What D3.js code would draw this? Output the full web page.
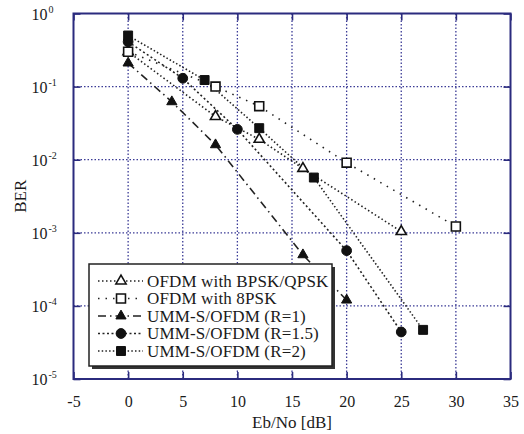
<!DOCTYPE html>
<html lang="en">
<head>
<meta charset="UTF-8">
<title>BER vs Eb/No</title>
<script src="https://d3js.org/d3.v7.min.js"></script>
<style>
  body { margin: 0; background: #fff; }
  svg text { font-family: "Liberation Serif", "Times New Roman", serif; fill: #1a1a1a; }
</style>
</head>
<body>
<div id="chart"></div>
<script>
// ---- data ----
const xTicks = [-5, 0, 5, 10, 15, 20, 25, 30, 35];
const yExps = [0, -1, -2, -3, -4, -5];

const seriesNames = [
  "OFDM with BPSK/QPSK",
  "OFDM with 8PSK",
  "UMM-S/OFDM (R=1)",
  "UMM-S/OFDM (R=1.5)",
  "UMM-S/OFDM (R=2)"
];
const bpskX = [0, 8, 12, 16, 25];
const bpskY = [0.30, 0.039, 0.019, 0.0076, 0.00104];
const psk8X = [0, 8, 12, 20, 30];
const psk8Y = [0.30, 0.10, 0.054, 0.0091, 0.00122];
const r1X = [0, 4, 8, 16, 20];
const r1Y = [0.21, 0.062, 0.016, 0.0005, 0.00012];
const r15X = [0, 5, 10, 20, 25];
const r15Y = [0.41, 0.13, 0.026, 0.00057, 0.000044];
const r2X = [0, 7, 12, 17, 27];
const r2Y = [0.50, 0.123, 0.027, 0.0057, 0.000047];

const W = 524, H = 434;
const margin = { left: 73.5, right: 13.5, top: 13.5, bottom: 55 };

const svg = d3.select("#chart").append("svg")
  .attr("width", W).attr("height", H);

const x = d3.scaleLinear().domain([-5, 35]).range([margin.left, W - margin.right]);
const y = d3.scaleLog().domain([1e-5, 1]).range([H - margin.bottom, margin.top]);

const gridColor = "#3b3b96";
const frameColor = "#2b2b7e";

// grid lines
svg.append("g")
  .selectAll("line")
  .data(xTicks.slice(1, -1))
  .join("line")
  .attr("x1", d => x(d)).attr("x2", d => x(d))
  .attr("y1", y(1)).attr("y2", y(1e-5))
  .attr("stroke", gridColor).attr("stroke-width", 1.3)
  .attr("stroke-dasharray", "1.5,2");

svg.append("g")
  .selectAll("line")
  .data(yExps.slice(1, -1))
  .join("line")
  .attr("x1", x(-5)).attr("x2", x(35))
  .attr("y1", d => y(Math.pow(10, d))).attr("y2", d => y(Math.pow(10, d)))
  .attr("stroke", gridColor).attr("stroke-width", 1.3)
  .attr("stroke-dasharray", "1.5,2");

// axes (ticks inside)
const xAxis = svg.append("g")
  .attr("transform", `translate(0,${y(1e-5)})`)
  .call(d3.axisBottom(x).tickValues(xTicks).tickSizeInner(-7).tickSizeOuter(0)
    .tickPadding(17).tickFormat(d => String(d)));
const xAxisTop = svg.append("g")
  .attr("transform", `translate(0,${y(1)})`)
  .call(d3.axisTop(x).tickValues(xTicks).tickSizeInner(-7).tickSizeOuter(0).tickFormat(""));
const yAxis = svg.append("g")
  .attr("transform", `translate(${x(-5)},0)`)
  .call(d3.axisLeft(y).tickValues(yExps.map(e => Math.pow(10, e))).tickSizeInner(-7).tickSizeOuter(0).tickFormat(""));
const yAxisR = svg.append("g")
  .attr("transform", `translate(${x(35)},0)`)
  .call(d3.axisRight(y).tickValues(yExps.map(e => Math.pow(10, e))).tickSizeInner(-7).tickSizeOuter(0).tickFormat(""));

[xAxis, xAxisTop, yAxis, yAxisR].forEach(g => {
  g.select(".domain").remove();
  g.selectAll(".tick line").attr("stroke", frameColor).attr("stroke-width", 1.6);
});
xAxis.selectAll(".tick text")
  .attr("font-size", 16).attr("fill", "#1a1a1a")
  .attr("font-family", "Liberation Serif, serif");

// y tick labels with superscripts
const yLab = svg.append("g").selectAll("text")
  .data(yExps)
  .join("text")
  .attr("x", x(-5) - 26)
  .attr("y", d => y(Math.pow(10, d)) + 6)
  .attr("text-anchor", "end")
  .attr("font-size", 16);
yLab.append("tspan").text("10");
yLab.append("tspan")
  .attr("x", x(-5) - 25)
  .attr("dy", -7)
  .attr("text-anchor", "start")
  .attr("font-size", 10)
  .text(d => String(d));

// frame
svg.append("rect")
  .attr("x", x(-5)).attr("y", y(1))
  .attr("width", x(35) - x(-5)).attr("height", y(1e-5) - y(1))
  .attr("fill", "none").attr("stroke", frameColor).attr("stroke-width", 2);

// axis titles
svg.append("text")
  .attr("x", (x(-5) + x(35)) / 2).attr("y", 428)
  .attr("text-anchor", "middle").attr("font-size", 17)
  .text("Eb/No [dB]");
svg.append("text")
  .attr("transform", `translate(26,${(y(1) + y(1e-5)) / 2}) rotate(-90)`)
  .attr("text-anchor", "middle").attr("font-size", 17)
  .text("BER");

// series
const series = [
  { name: seriesNames[0], xs: bpskX, ys: bpskY, dash: "1.5,2.5", marker: "triangle", fill: "#fff" },
  { name: seriesNames[1], xs: psk8X, ys: psk8Y, dash: "1.5,6", marker: "square", fill: "#fff" },
  { name: seriesNames[2], xs: r1X, ys: r1Y, dash: "8,4,1.5,4", marker: "triangle", fill: "#111" },
  { name: seriesNames[3], xs: r15X, ys: r15Y, dash: "2,2.5", marker: "circle", fill: "#111" },
  { name: seriesNames[4], xs: r2X, ys: r2Y, dash: "1.5,2.2", marker: "square", fill: "#111" }
];

const symbolType = { triangle: d3.symbolTriangle, square: d3.symbolSquare, circle: d3.symbolCircle };
const symbolSize = { triangle: 45, square: 80, circle: 75 };

const line = d3.line().x(d => x(d[0])).y(d => y(d[1]));

function drawMarker(g, s, px, py) {
  const filled = s.fill !== "#fff";
  g.append("path")
    .attr("transform", `translate(${px},${py})`)
    .attr("d", d3.symbol().type(symbolType[s.marker]).size(symbolSize[s.marker])())
    .attr("fill", s.fill)
    .attr("stroke", "#111")
    .attr("stroke-width", filled ? 1 : 1.6);
}

const plot = svg.append("g");
series.forEach(s => {
  const pts = s.xs.map((v, i) => [v, s.ys[i]]);
  plot.append("path")
    .datum(pts)
    .attr("d", line)
    .attr("fill", "none")
    .attr("stroke", "#222")
    .attr("stroke-width", 1.6)
    .attr("stroke-dasharray", s.dash);
});
series.forEach(s => {
  s.xs.forEach((v, i) => drawMarker(plot, s, x(v), y(s.ys[i])));
});

// legend
const lg = svg.append("g").attr("transform", "translate(89,264)");
lg.append("rect")
  .attr("x", 3).attr("y", 3).attr("width", 243).attr("height", 102)
  .attr("fill", "#333");
lg.append("rect")
  .attr("x", 0).attr("y", 0).attr("width", 243).attr("height", 102)
  .attr("fill", "#fff").attr("stroke", "#222").attr("stroke-width", 1.5);

series.forEach((s, i) => {
  const cy = 17 + i * 17.5;
  lg.append("line")
    .attr("x1", 9).attr("x2", 54).attr("y1", cy).attr("y2", cy)
    .attr("stroke", "#222").attr("stroke-width", 1.6)
    .attr("stroke-dasharray", s.dash);
  drawMarker(lg, s, 32, cy);
  lg.append("text")
    .attr("x", 58).attr("y", cy + 5.5)
    .attr("font-size", 17)
    .attr("letter-spacing", 0.15)
    .text(s.name);
});
</script>
</body>
</html>
